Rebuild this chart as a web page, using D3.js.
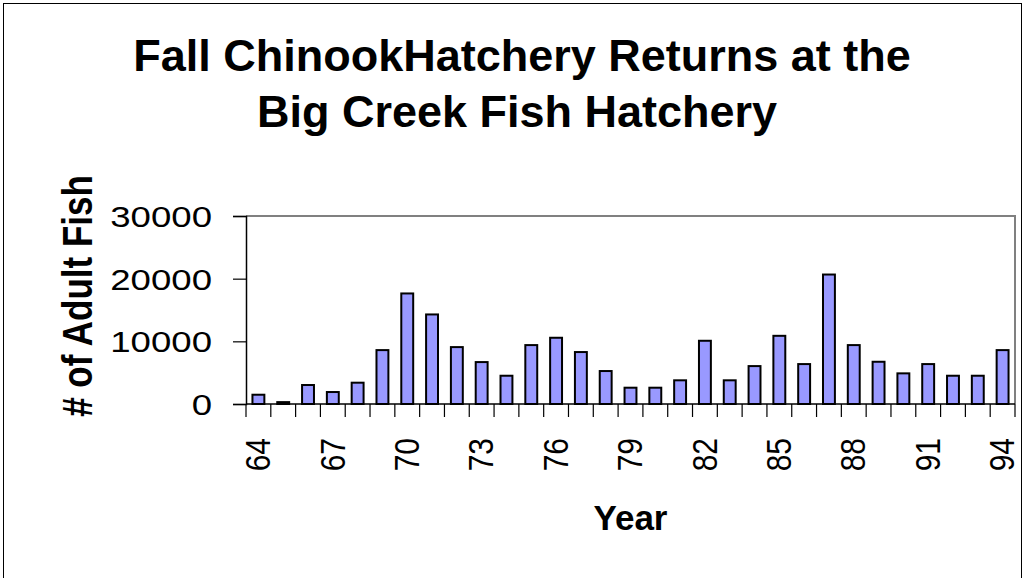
<!doctype html>
<html lang="en">
  <head>
    <meta charset="UTF-8" />
    <title>Fall Chinook Hatchery Returns</title>
    <style>
      body { margin: 0; background: #fff; }
      svg { display: block; font-family: 'Liberation Sans', Arial, sans-serif; }
      .frame { fill: none; stroke: #000; stroke-width: 1px; }
      .bar { fill: #9999ff; stroke: #000; stroke-width: 2px; }
      .title { font-size: 45px; font-weight: bold; }
      .axis-title { font-weight: bold; font-size: 35px; }
      .tick-label { font-size: 30px; }
    </style>
  </head>
  <body>
    <div id="chart"></div>
    <script src="https://d3js.org/d3.v7.min.js"></script>
    <script>
      // values, one per year 1964..1994
      const years = d3.range(64, 95).map(String);
      const fish = [1480, 300, 3030, 1910, 3400, 8600, 17640, 14290, 9080, 6690, 4510,
                    9400, 10570, 8290, 5260, 2600, 2600, 3780, 10090, 3780, 6050, 10880,
                    6370, 20660, 9400, 6740, 4890, 6370, 4510, 4510, 8600];
      const yTicks = [0, 10000, 20000, 30000];
      const xLabels = ['64', '67', '70', '73', '76', '79', '82', '85', '88', '91', '94'];

      const width = 1029;
      const height = 578;
      const plot = { left: 246, right: 1015, top: 216, bottom: 404 };

      const svg = d3.select('#chart').append('svg').attr('width', width).attr('height', height);

      // outer chart frame (its bottom runs off the page)
      svg.append('rect').attr('class', 'frame')
        .attr('x', 3.5).attr('y', 3.5).attr('width', 1018).attr('height', 620);

      // title
      const title = svg.append('text').attr('class', 'title').attr('text-anchor', 'middle');
      title.append('tspan').attr('x', 522).attr('y', 71).text('Fall ChinookHatchery Returns at the');
      title.append('tspan').attr('x', 517).attr('y', 127).text('Big Creek Fish Hatchery');

      const x = d3.scaleBand().domain(years).range([plot.left, plot.right]).paddingInner(0.52).paddingOuter(0.26);
      const y = d3.scaleLinear().domain([0, 30000]).range([plot.bottom, plot.top]);

      // plot area border: top and right in grey
      svg.append('path')
        .attr('d', `M${plot.left},${y(30000)}H${plot.right}V${y(0)}`)
        .attr('fill', 'none').attr('stroke', '#808080').attr('stroke-width', 2);

      // bars
      svg.selectAll('.bar')
        .data(years)
        .enter()
        .append('rect')
        .attr('class', 'bar')
        .attr('x', (d) => x(d))
        .attr('width', x.bandwidth())
        .attr('y', (d, i) => y(fish[i]))
        .attr('height', (d, i) => y(0) - y(fish[i]));

      // y axis
      const yAxis = svg.append('g')
        .attr('transform', `translate(${plot.left},0)`)
        .call(d3.axisLeft(y).tickValues(yTicks).tickSize(13).tickFormat(d3.format('d')));
      yAxis.select('.domain').attr('stroke', '#000').attr('stroke-width', 1.5);
      yAxis.selectAll('.tick line').attr('stroke', '#000').attr('stroke-width', 1.2);
      yAxis.selectAll('.tick text')
        .attr('class', 'tick-label')
        .attr('x', 0).attr('dy', '0.35em')
        .attr('fill', '#000')
        .attr('transform', 'translate(-34,0) scale(1.22,1)');

      // x axis: baseline, ticks at every category boundary
      const edges = years.map((d) => x(d) - x.step() * x.paddingInner() / 2).concat([plot.right]);
      svg.append('line')
        .attr('x1', plot.left).attr('x2', plot.right)
        .attr('y1', y(0)).attr('y2', y(0))
        .attr('stroke', '#000').attr('stroke-width', 1.5);
      svg.selectAll('.xtick')
        .data(edges)
        .enter()
        .append('line')
        .attr('class', 'xtick')
        .attr('x1', (d) => d).attr('x2', (d) => d)
        .attr('y1', y(0)).attr('y2', y(0) + 13)
        .attr('stroke', '#000').attr('stroke-width', 1.2);

      const xAxis = svg.append('g')
        .attr('transform', `translate(0,${plot.bottom})`)
        .call(d3.axisBottom(x).tickValues(xLabels).tickSize(0));
      xAxis.select('.domain').remove();
      xAxis.selectAll('.tick text')
        .attr('class', 'tick-label')
        .attr('x', 0).attr('y', 0).attr('dy', null)
        .attr('fill', '#000')
        .attr('text-anchor', 'end')
        .attr('dominant-baseline', 'central')
        .attr('transform', 'translate(0,34) scale(1.15,1) rotate(-90)');

      // axis titles
      svg.append('text')
        .attr('class', 'axis-title')
        .attr('text-anchor', 'middle')
        .attr('x', (plot.left + plot.right) / 2)
        .attr('y', 530)
        .text('Year');

      svg.append('text')
        .attr('class', 'axis-title')
        .attr('text-anchor', 'middle')
        .attr('dominant-baseline', 'central')
        .attr('transform', 'translate(77,296) scale(1.2,1) rotate(-90)')
        .text('# of Adult Fish');
    </script>
  </body>
</html>
